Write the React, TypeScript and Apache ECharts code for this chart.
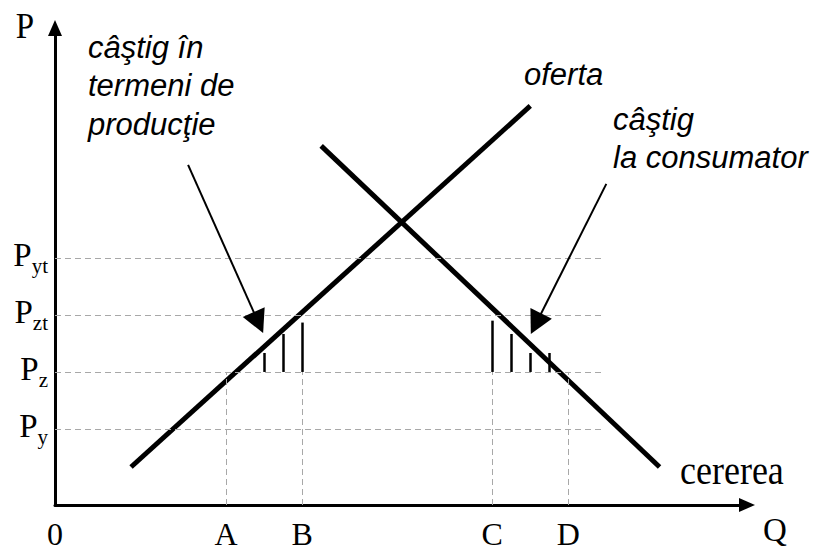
import React, { useEffect, useRef } from 'react';
import * as echarts from 'echarts';

// Axis tick positions and labels
const xTickValues = [0, 9, 13, 23, 27];
const xTickLabels = ['0', 'A', 'B', 'C', 'D'];
const yTickValues = [4, 7, 10, 13];
const yTickSubs = ['y', 'z', 'zt', 'yt'];

// Curves
const supplyLine = [[4, 2], [25, 21]];
const demandLine = [[14, 18.9], [31.8, 2]];

// Guides
const priceGuideEnd = 28.8;
const quantityDrops = [9, 13, 23, 27];
const pZ = 7;

// Hatching (x, top) from Pz upward
const producerHatch = [[11, 8], [12, 9], [13, 9.6]];
const consumerHatch = [[23, 9.7], [24, 9], [25, 8], [26, 8]];

// Annotation arrows: [start, end]
const producerArrow = [[7, 17.9], [10.7, 9.6]];
const consumerArrow = [[29, 16.9], [25.3, 9.54]];

const SERIF = '"Liberation Serif", "Times New Roman", serif';
const SANS = '"Liberation Sans", Arial, sans-serif';

export default function App() {
  const ref = useRef<HTMLDivElement>(null);
  useEffect(() => {
    if (!ref.current) return;
    const chart = echarts.init(ref.current, undefined, { renderer: 'svg' });
    const dashed = [
      ...yTickValues.map((v) => [{ coord: [0, v] }, { coord: [priceGuideEnd, v] }]),
      ...quantityDrops.map((q) => [{ coord: [q, 0] }, { coord: [q, pZ] }]),
    ];
    const hatch = [...producerHatch, ...consumerHatch].map(([x, top]) => [
      { coord: [x, pZ] },
      { coord: [x, top] },
    ]);
    const arrows = [producerArrow, consumerArrow].map(([a, b]) => [{ coord: a }, { coord: b }]);
    const option: any = {
      animation: false,
      grid: { left: 55, top: 28, right: 70, bottom: 48 },
      xAxis: {
        type: 'value',
        min: 0,
        max: 36.4,
        splitLine: { show: false },
        axisTick: { show: false },
        axisLine: {
          show: true,
          symbol: ['none', 'triangle'],
          symbolSize: [14, 16],
          lineStyle: { color: '#000', width: 3 },
        },
        axisLabel: {
          customValues: xTickValues,
          formatter: (v: number) => xTickLabels[xTickValues.indexOf(v)] ?? '',
          color: '#000',
          fontFamily: SERIF,
          fontSize: 32,
          margin: 13,
        },
      },
      yAxis: {
        type: 'value',
        min: 0,
        max: 25.1,
        splitLine: { show: false },
        axisTick: { show: false },
        axisLine: {
          show: true,
          symbol: ['none', 'triangle'],
          symbolSize: [14, 16],
          lineStyle: { color: '#000', width: 3 },
        },
        axisLabel: {
          customValues: yTickValues,
          formatter: (v: number) => `{p|P}{s|${yTickSubs[yTickValues.indexOf(v)] ?? ''}}`,
          color: '#000',
          margin: 7,
          rich: {
            p: { fontFamily: SERIF, fontSize: 33, color: '#000', lineHeight: 20, verticalAlign: 'top' },
            s: { fontFamily: SERIF, fontSize: 21, color: '#000', lineHeight: 38, verticalAlign: 'bottom' },
          },
        },
      },
      series: [
        {
          type: 'line',
          data: [],
          silent: true,
          markLine: {
            silent: true,
            symbol: 'none',
            label: { show: false },
            emphasis: { disabled: true },
            lineStyle: { color: '#a8a8a8', width: 1, type: [6, 4] },
            data: dashed,
          },
        },
        {
          type: 'line',
          data: [],
          silent: true,
          markLine: {
            silent: true,
            symbol: 'none',
            label: { show: false },
            emphasis: { disabled: true },
            lineStyle: { color: '#000', width: 2.5, type: 'solid' },
            data: hatch,
          },
        },
        {
          name: 'oferta',
          type: 'line',
          data: supplyLine,
          showSymbol: false,
          symbol: 'none',
          silent: true,
          lineStyle: { color: '#000', width: 5 },
        },
        {
          name: 'cererea',
          type: 'line',
          data: demandLine,
          showSymbol: false,
          symbol: 'none',
          silent: true,
          lineStyle: { color: '#000', width: 5 },
        },
        {
          type: 'line',
          data: [],
          silent: true,
          markLine: {
            silent: true,
            symbol: ['none', 'triangle'],
            symbolSize: [24, 23],
            label: { show: false },
            emphasis: { disabled: true },
            lineStyle: { color: '#000', width: 2, type: 'solid' },
            itemStyle: { color: '#000' },
            data: arrows,
          },
        },
      ],
      graphic: [
        {
          type: 'text',
          x: 25,
          y: 26,
          scaleY: 1.1,
          style: { text: 'P', fontFamily: SERIF, fontSize: 33, fill: '#000', align: 'center', verticalAlign: 'middle' },
        },
        {
          type: 'text',
          x: 775,
          y: 530,
          style: { text: 'Q', fontFamily: SERIF, fontSize: 33, fill: '#000', align: 'center', verticalAlign: 'middle' },
        },
        {
          type: 'text',
          x: 680,
          y: 470,
          scaleY: 1.1,
          style: { text: 'cererea', fontFamily: SERIF, fontSize: 36, fill: '#000', align: 'left', verticalAlign: 'middle' },
        },
        {
          type: 'text',
          x: 88,
          y: 28,
          style: {
            text: 'câştig în\ntermeni de\nproducţie',
            fontFamily: SANS,
            fontStyle: 'italic',
            fontSize: 31,
            lineHeight: 38.5,
            fill: '#000',
            align: 'left',
            verticalAlign: 'top',
          },
        },
        {
          type: 'text',
          x: 524,
          y: 74,
          style: { text: 'oferta', fontFamily: SANS, fontStyle: 'italic', fontSize: 31, fill: '#000', align: 'left', verticalAlign: 'middle' },
        },
        {
          type: 'text',
          x: 613,
          y: 100,
          style: {
            text: 'câştig\nla consumator',
            fontFamily: SANS,
            fontStyle: 'italic',
            fontSize: 31,
            lineHeight: 38,
            fill: '#000',
            align: 'left',
            verticalAlign: 'top',
          },
        },
      ],
    };
    chart.setOption(option);
    return () => chart.dispose();
  }, []);
  return (
    <div
      ref={ref}
      style={{ position: 'fixed', left: 0, top: 0, width: 817, height: 553, background: '#fff' }}
    />
  );
}
